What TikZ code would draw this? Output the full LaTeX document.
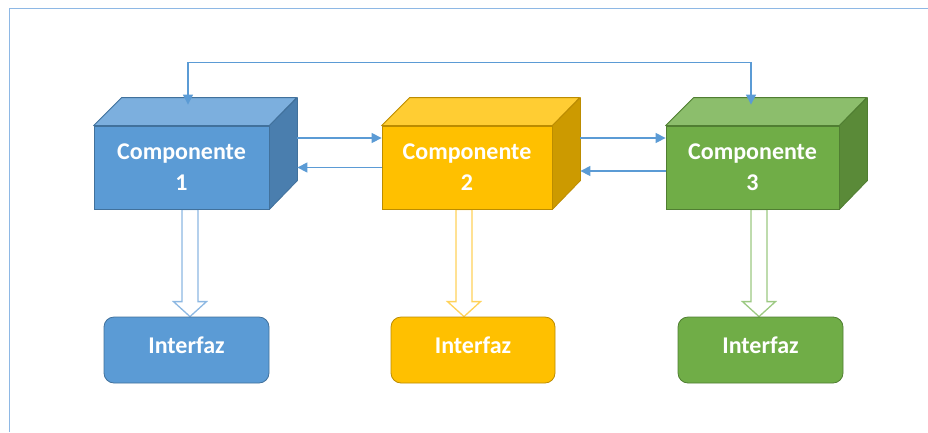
\documentclass[tikz,border=0pt]{standalone}
\usepackage{fontspec}
\setmainfont{Carlito}
\usetikzlibrary{arrows.meta,calc}

% palette
\definecolor{bluefront}{HTML}{5B9BD5}
\definecolor{bluetop}{HTML}{7CAFDE}
\definecolor{blueside}{HTML}{4A7EAE}
\definecolor{blueline}{HTML}{41719C}
\definecolor{bluelight}{HTML}{8DB8E2}
\definecolor{yelfront}{HTML}{FFC000}
\definecolor{yeltop}{HTML}{FFCD33}
\definecolor{yelside}{HTML}{CC9A00}
\definecolor{yelline}{HTML}{BC8C00}
\definecolor{yellight}{HTML}{FFD25A}
\definecolor{grnfront}{HTML}{70AD47}
\definecolor{grntop}{HTML}{8CBE6C}
\definecolor{grnside}{HTML}{5A8A38}
\definecolor{grnline}{HTML}{507E32}
\definecolor{grnlight}{HTML}{9CC982}
\definecolor{framecol}{HTML}{8EB8E5}

\pgfdeclarelayer{behind}
\pgfsetlayers{behind,main}

\tikzset{
  comp/.style={rectangle, minimum width=175pt, minimum height=83pt, inner sep=0pt,
    line width=0.8pt, text=white, align=center,
    font=\bfseries\fontsize{24}{31}\selectfont},
  iface/.style={rectangle, rounded corners=10pt, minimum width=165pt, minimum height=66pt,
    inner sep=0pt, line width=0.8pt, text=white, text depth=9pt,
    font=\bfseries\fontsize{24}{28}\selectfont},
  face/.style={line width=0.8pt, line join=round},
  link/.style={draw=bluefront, line width=1.3pt},
  tip/.style={-{Triangle[length=10pt,width=10pt]}},
  hollow/.style={fill=white, line width=1.3pt, line join=miter},
  frame/.style={draw=framecol, line width=1.5pt}
}

% wide hollow arrow between two named points
\newcommand\blockarrow[3]{% #1 start, #2 tip, #3 colour
  \draw[hollow, draw=#3]
    ([xshift=-8pt]#1) -- ([xshift=8pt]#1) -- ([xshift=8pt,yshift=15pt]#2)
    -- ([xshift=16.5pt,yshift=15pt]#2) -- (#2) -- ([xshift=-16.5pt,yshift=15pt]#2)
    -- ([xshift=-8pt,yshift=15pt]#2) -- cycle;
}

\begin{document}
\begin{tikzpicture}[x=1pt,y=-1pt]
  \useasboundingbox (0,0) rectangle (928,432);

  % outer frame
  \draw[frame] (9.5,432) -- (9.5,8.5) -- (928,8.5);

  % interface boxes
  \node[iface, fill=bluefront, draw=blueline] (i1) at (186.5,350) {Interfaz};
  \node[iface, fill=yelfront, draw=yelline, minimum width=164pt] (i2) at (473,350) {Interfaz};
  \node[iface, fill=grnfront, draw=grnline] (i3) at (760.5,350) {Interfaz};

  % component boxes: front faces
  \node[comp, fill=bluefront, draw=blueline] (c1) at (181.5,167.5) {Componente\\1};
  \node[comp, fill=yelfront, draw=yelline, minimum width=170pt] (c2) at (467,167.5) {Componente\\2};
  \node[comp, fill=grnfront, draw=grnline, minimum width=173pt] (c3) at (752.5,167.5) {Componente\\3};

  % top and right faces
  \filldraw[face, fill=bluetop, draw=blueline]
    (c1.north west) -- ++(28,-28) -- ++(175,0) -- (c1.north east) -- cycle;
  \filldraw[face, fill=blueside, draw=blueline]
    (c1.north east) -- ++(28,-28) -- ++(0,83) -- (c1.south east) -- cycle;
  \filldraw[face, fill=yeltop, draw=yelline]
    (c2.north west) -- ++(28,-28) -- ++(170,0) -- (c2.north east) -- cycle;
  \filldraw[face, fill=yelside, draw=yelline]
    (c2.north east) -- ++(28,-28) -- ++(0,83) -- (c2.south east) -- cycle;
  \filldraw[face, fill=grntop, draw=grnline]
    (c3.north west) -- ++(28,-28) -- ++(173,0) -- (c3.north east) -- cycle;
  \filldraw[face, fill=grnside, draw=grnline]
    (c3.north east) -- ++(28,-28) -- ++(0,83) -- (c3.south east) -- cycle;

  % hollow arrows down to the interfaces, tucked under the boxes
  \path (190,0 |- c1.south) coordinate (a1s) (190,0 |- i1.north) coordinate (a1t);
  \path (464,0 |- c2.south) coordinate (a2s) (464,0 |- i2.north) coordinate (a2t);
  \path (759,0 |- c3.south) coordinate (a3s) (759,0 |- i3.north) coordinate (a3t);
  \begin{pgfonlayer}{behind}
    \blockarrow{a1s}{a1t}{bluelight}
    \blockarrow{a2s}{a2t}{yellight}
    \blockarrow{a3s}{a3t}{grnlight}
  \end{pgfonlayer}

  % back edges of the right faces
  \coordinate (b1) at ($(c1.east)+(28,0)$);
  \coordinate (b2) at ($(c2.east)+(28,0)$);

  % links between neighbouring components
  \draw[link, tip] ([yshift=29.5pt]b1) coordinate (u1) -- (u1 -| c2.west);
  \draw[link, tip] (c2.west) -- (c2.west -| b1);
  \draw[link, tip] ([yshift=29.5pt]b2) coordinate (u2) -- (u2 -| c3.west);
  \draw[link, tip] ([yshift=-3.5pt]c3.west) coordinate (w3) -- (w3 -| b2);

  % link over the top from component 1 to component 3
  \draw[link, {Triangle[length=10pt,width=10pt]}-{Triangle[length=10pt,width=10pt]}]
    ([xshift=6.5pt,yshift=21pt]c1.north) -- ++(0,-42) -| ([xshift=-1.5pt,yshift=21pt]c3.north);
\end{tikzpicture}
\end{document}
